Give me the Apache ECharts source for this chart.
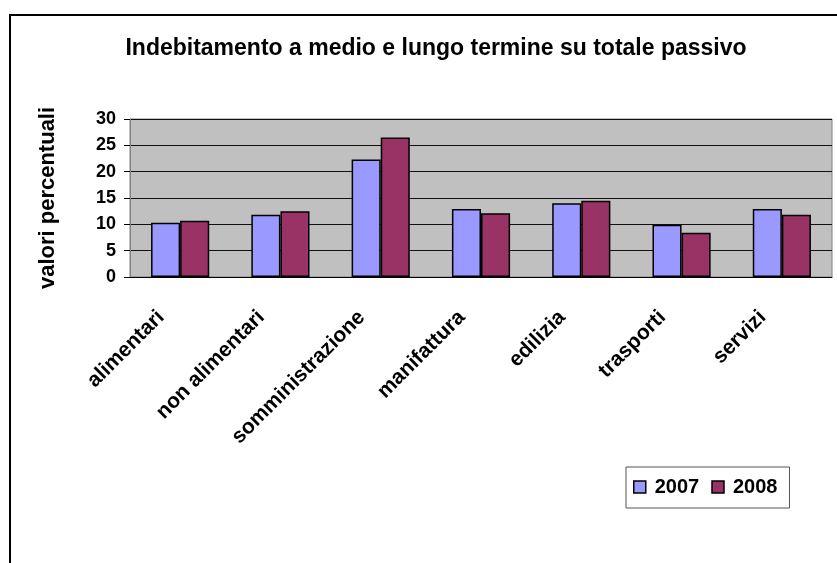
<!DOCTYPE html>
<html>
<head>
<meta charset="utf-8">
<script src="https://cdn.jsdelivr.net/npm/echarts@6/dist/echarts.min.js"></script>
<style>
  html, body { margin: 0; padding: 0; background: #fff; }
  #chart { width: 837px; height: 563px; }
</style>
</head>
<body>
<div id="chart"></div>
<script>
  // dati
  var categories = ['alimentari', 'non alimentari', 'somministrazione', 'manifattura', 'edilizia', 'trasporti', 'servizi'];
  var values2007 = [10.3, 11.8, 22.3, 12.9, 14.0, 9.9, 12.9];
  var values2008 = [10.7, 12.5, 26.5, 12.1, 14.5, 8.4, 11.8];
  var yMin = 0, yMax = 30, yStep = 5;

  var font = 'Liberation Sans, Arial, sans-serif';
  var myChart = echarts.init(document.getElementById('chart'));

  myChart.setOption({
    animation: false,
    color: ['#9999FF', '#993366'],
    title: {
      text: 'Indebitamento a medio e lungo termine su totale passivo',
      left: 431,
      top: 32,
      textAlign: 'center',
      textStyle: { fontFamily: font, fontSize: 23, fontWeight: 'bold', color: '#000' }
    },
    legend: {
      data: ['2007', '2008'],
      left: 626,
      top: 467,
      width: 164,
      padding: [10, 12, 11, 7],
      itemGap: 12,
      itemWidth: 12,
      itemHeight: 12,
      icon: 'rect',
      borderColor: '#555',
      borderWidth: 1,
      itemStyle: { borderColor: '#000', borderWidth: 1.5 },
      textStyle: { fontFamily: font, fontSize: 20, fontWeight: 'bold', color: '#000', padding: [0, 0, 0, 4] }
    },
    grid: {
      left: 130,
      right: 5,
      top: 119,
      bottom: 286,
      show: true,
      backgroundColor: '#C0C0C0',
      borderColor: '#808080',
      borderWidth: 1
    },
    xAxis: {
      type: 'category',
      data: categories,
      axisLine: { lineStyle: { color: '#000', width: 1 } },
      axisTick: { length: 5, lineStyle: { color: '#000' } },
      axisLabel: {
        interval: 0,
        rotate: 45,
        margin: 18,
        padding: [0, 27, 0, 0],
        fontFamily: font,
        fontSize: 21,
        fontWeight: 'bold',
        color: '#000'
      }
    },
    yAxis: {
      type: 'value',
      min: yMin,
      max: yMax,
      interval: yStep,
      name: 'valori percentuali',
      nameLocation: 'middle',
      nameGap: 71,
      nameTextStyle: { fontFamily: font, fontSize: 22, fontWeight: 'bold', color: '#000' },
      axisLine: { show: true, lineStyle: { color: '#808080', width: 1 } },
      axisTick: { show: true, length: 6, lineStyle: { color: '#000' } },
      axisLabel: { margin: 14, fontFamily: font, fontSize: 18, fontWeight: 'bold', color: '#000' },
      splitLine: { lineStyle: { color: '#111', width: 1 } }
    },
    series: [
      {
        name: '2007',
        type: 'bar',
        data: values2007,
        barGap: '0%',
        barCategoryGap: '42%',
        itemStyle: { borderColor: '#000', borderWidth: 1.5 }
      },
      {
        name: '2008',
        type: 'bar',
        data: values2008,
        barGap: '0%',
        barCategoryGap: '42%',
        itemStyle: { borderColor: '#000', borderWidth: 1.5 }
      }
    ],
    graphic: [{
      type: 'rect',
      silent: true,
      shape: { x: 10, y: 15, width: 900, height: 700 },
      style: { fill: null, stroke: '#000', lineWidth: 2 }
    }]
  });
</script>
</body>
</html>
